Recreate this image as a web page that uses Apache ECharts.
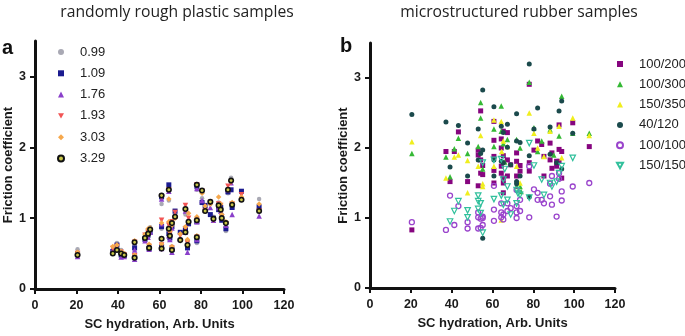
<!DOCTYPE html>
<html><head><meta charset="utf-8">
<script src="https://cdn.jsdelivr.net/npm/echarts@6/dist/echarts.min.js"></script>
<style>html,body{margin:0;padding:0;background:#fff}#c{width:685px;height:336px}</style>
</head><body><div id="c"></div>
<script>
// ---------- tick labels ----------
const xTicks = [0, 20, 40, 60, 80, 100, 120];
const yTicks = [0, 1, 2, 3];
const titleA = 'randomly rough plastic samples';
const titleB = 'microstructured rubber samples';
const xName = 'SC hydration, Arb. Units';
const yName = 'Friction coefficient';

// ---------- panel a : randomly rough plastic samples ----------
const plasticLabels = ['0.99', '1.09', '1.76', '1.93', '3.03', '3.29'];
const hydrationA = [20.5, 37.5, 39.5, 41.5, 43, 48, 48, 53, 54.5, 55, 55.5, 61, 61, 61, 64.5, 64.5, 65, 66, 66, 67.5, 70, 72.5, 72.5, 73.5, 74, 78, 78, 78, 80.5, 82, 84.5, 86, 88.5, 89.5, 90, 92, 93, 94.5, 95, 99.5, 108];
const p099 = [0.56, 0.55, 0.65, 0.55, 0.50, 0.62, 0.47, 0.74, 0.83, 0.62, 0.87, 1.20, 0.85, 0.62, 1.25, 0.88, 0.80, 0.60, 0.95, 1.07, 0.80, 1.05, 0.87, 0.68, 0.95, 1.40, 0.98, 0.65, 1.28, 1.15, 1.20, 1.02, 1.22, 1.13, 1.05, 0.82, 1.35, 1.57, 1.15, 1.27, 1.27];
const p109 = [0.50, 0.53, 0.62, 0.48, 0.47, 0.58, 0.45, 0.70, 0.76, 0.57, 0.80, 1.30, 0.88, 0.60, 1.47, 0.78, 0.72, 0.56, 0.88, 1.10, 0.80, 0.85, 0.83, 0.58, 0.92, 1.45, 0.95, 0.68, 1.22, 1.18, 1.05, 1.00, 1.12, 1.15, 0.97, 0.85, 1.37, 1.40, 1.15, 1.38, 1.16];
const p176 = [0.46, 0.55, 0.58, 0.45, 0.46, 0.55, 0.42, 0.68, 0.73, 0.56, 0.80, 1.27, 0.92, 0.57, 1.38, 0.75, 0.70, 0.52, 0.86, 1.05, 0.72, 1.10, 0.80, 0.52, 0.98, 1.42, 0.95, 0.70, 1.25, 1.12, 1.15, 0.97, 1.15, 1.10, 1.00, 0.90, 1.40, 1.50, 1.05, 1.30, 1.03];
const p193 = [0.50, 0.57, 0.60, 0.52, 0.48, 0.66, 0.47, 0.76, 0.80, 0.60, 0.82, 1.30, 0.97, 0.62, 1.40, 0.90, 0.78, 0.58, 0.95, 1.08, 0.75, 1.18, 0.85, 0.65, 1.00, 1.47, 0.97, 0.73, 1.38, 1.10, 1.22, 0.97, 1.20, 1.18, 1.02, 0.92, 1.45, 1.50, 1.20, 1.33, 1.10];
const p303 = [0.52, 0.60, 0.62, 0.53, 0.50, 0.68, 0.48, 0.77, 0.85, 0.63, 0.86, 1.32, 0.93, 0.63, 1.27, 0.95, 0.82, 0.60, 0.90, 1.00, 0.78, 1.12, 0.88, 0.70, 1.07, 1.48, 1.02, 0.75, 1.35, 1.17, 1.20, 1.00, 1.30, 1.20, 1.05, 0.95, 1.40, 1.52, 1.22, 1.30, 1.20];
const p329 = [0.48, 0.50, 0.55, 0.50, 0.48, 0.66, 0.44, 0.72, 0.78, 0.58, 0.84, 1.32, 0.71, 0.57, 1.40, 0.85, 0.75, 0.55, 0.93, 1.02, 0.69, 1.13, 0.80, 0.62, 0.95, 1.47, 0.97, 0.73, 1.39, 1.10, 1.23, 0.99, 1.18, 1.12, 1.00, 0.93, 1.40, 1.53, 1.19, 1.26, 1.10];

// ---------- panel b : microstructured rubber samples ([hydration, friction]) ----------
const rubberLabels = ['100/200', '100/300', '150/350', '40/120', '100/100', '150/150'];
const r100_200 = [[20.5,0.83],[37.2,1.95],[39.2,1.52],[41.3,1.95],[43.3,2.23],[47.8,1.52],[53,1.97],[53,1.9],[53,1.46],[54.2,2.53],[54.2,1.83],[54.2,1.64],[55.2,1.75],[55.2,1.62],[60.7,2.38],[60.7,2.11],[60.7,1.88],[60.7,1.68],[60.7,1.5],[64.3,2.13],[64.3,2.0],[64.3,1.74],[64.3,1.64],[65.3,2.24],[65.3,1.89],[65.3,1.57],[65.3,1.5],[65.3,1.36],[67.3,2.22],[67.3,1.83],[67.3,1.6],[68.9,1.76],[71.8,1.93],[71.8,1.81],[71.8,1.6],[73.5,1.75],[73.5,1.67],[78,2.91],[78,1.79],[78,1.67],[80.3,1.97],[82.1,2.1],[84.1,2.05],[85.2,1.88],[85.2,1.6],[88.2,2.07],[88.2,1.83],[89.1,1.93],[89.1,1.71],[91.4,1.81],[91.4,1.74],[92.6,2.33],[92.6,1.98],[92.6,1.81],[93.9,1.95],[93.9,1.57],[99.3,2.36],[107.4,2.02]];
const r100_300 = [[20.5,1.92],[37.2,1.87],[39.2,1.59],[41.3,1.99],[43.3,2.14],[47.8,1.92],[53,2.02],[54.2,2.65],[54.2,2.43],[55.2,1.7],[60.7,2.27],[60.7,2.02],[64.3,2.6],[64.3,2.24],[65.3,2.06],[66,1.8],[67.3,2.12],[71.8,2.12],[71.8,1.45],[73.5,2.0],[73.5,1.45],[74,1.38],[78,2.94],[80.3,2.29],[82.1,1.95],[84.1,2.1],[88.2,2.26],[90,1.9],[92.6,2.17],[93.9,2.74],[99.3,2.21],[107.4,2.21]];
const r150_350 = [[20.5,2.09],[37.2,1.57],[41.3,1.87],[43.3,1.9],[47.8,1.82],[47.8,1.36],[53,1.74],[54.2,2.18],[55.2,1.49],[55.2,1.45],[60.7,2.4],[60.7,1.74],[64.3,2.38],[64.3,0.97],[64.5,1.95],[65.3,2.1],[67.3,2.02],[71.8,1.74],[73.5,1.5],[78,2.5],[80.3,2.21],[82.1,2.0],[85.2,1.88],[88.2,2.24],[92.6,2.31],[93.9,1.86],[99.3,2.43],[107.4,2.18]];
const r40_120 = [[20.5,2.48],[37.2,2.37],[39.2,1.73],[43.3,2.32],[47.8,2.07],[47.8,1.6],[53,2.27],[53,1.83],[54.2,1.92],[55.2,2.83],[55.2,1.97],[55.2,0.71],[60.7,2.59],[60.7,1.83],[60.7,1.6],[64.3,2.31],[64.3,1.81],[65.3,2.22],[65.3,1.79],[67.3,2.34],[67.3,2.01],[68.9,1.76],[71.8,2.49],[71.8,2.1],[71.8,1.52],[71.8,1.49],[73.5,2.08],[73.5,1.6],[78,3.2],[78,1.89],[78,1.3],[80.3,2.27],[82.1,2.57],[88.2,2.3],[88.2,1.91],[91.4,1.79],[92.6,2.53],[93.9,2.67],[93.9,1.7],[99.3,2.21]];
const r100_100 = [[20.5,0.94],[37.2,0.83],[39.2,1.32],[41.3,0.9],[43.3,1.17],[47.8,0.94],[47.8,0.85],[53,1.08],[53,1.01],[53,0.85],[54.2,0.99],[54.2,0.86],[55.2,0.9],[55.2,1.0],[55.2,1.02],[60.7,1.46],[60.7,1.12],[60.7,0.96],[64.3,1.21],[64.3,1.08],[64.3,1.01],[65.3,1.05],[65.3,0.98],[67.3,1.21],[67.3,1.1],[68.9,1.14],[71.8,1.4],[71.8,1.17],[71.8,1.0],[71.8,1.08],[73.5,1.26],[73.5,1.1],[78,1.74],[78,1.01],[80.3,1.41],[82.1,1.36],[82.1,1.26],[84.1,1.26],[85.2,1.21],[88.2,1.49],[88.2,1.31],[89.1,1.6],[89.1,1.19],[91.4,1.02],[92.6,1.56],[92.6,1.64],[93.9,1.38],[93.9,1.25],[99.3,1.45],[107.4,1.5]];
const r150_150 = [[39.2,0.95],[41.3,1.1],[43.3,1.24],[47.8,1.11],[47.8,1.01],[53,1.32],[53,1.24],[53,1.13],[54.2,1.21],[54.2,1.07],[55.2,1.79],[55.2,0.79],[60.7,1.83],[60.7,1.27],[64.3,1.84],[64.3,1.32],[65.3,1.55],[65.3,1.19],[66,1.7],[67.3,1.45],[67.3,1.26],[68.9,1.05],[71.8,1.4],[71.8,1.21],[72.5,1.35],[73.5,1.33],[78,2.07],[78,1.29],[80.3,1.75],[84.1,1.55],[85.2,1.33],[88.2,1.5],[89.1,1.45],[91.4,1.52],[92.6,1.64],[93.9,1.74],[99.3,1.86]];

// ---------- build ----------
const FONT = '"Liberation Sans", Arial, sans-serif';
const DOWN_TRI = 'path://M0,0L10,0L5,9Z';
const pair = (xs, ys) => xs.map((x, i) => [x, ys[i]]);

function xAxisCfg(grid) {
  return {
    gridIndex: grid, type: 'value', min: 0, max: 120, interval: 20,
    name: xName, nameLocation: 'middle', nameGap: 29,
    nameTextStyle: { fontFamily: FONT, fontWeight: 'bold', fontSize: 13, color: '#1a1a1a' },
    axisLine: { show: true, onZero: false, lineStyle: { color: '#111', width: 3 } },
    axisTick: { show: true, length: 5, lineStyle: { color: '#111', width: 2 }, customValues: xTicks },
    axisLabel: { margin: 10, fontFamily: FONT, fontWeight: 'bold', fontSize: 12.5, color: '#1a1a1a', customValues: xTicks },
    splitLine: { show: false }
  };
}
function yAxisCfg(grid) {
  return {
    gridIndex: grid, type: 'value', min: 0, max: 3.5,
    name: yName, nameLocation: 'middle', nameGap: 20, nameRotate: 90,
    nameTextStyle: { fontFamily: FONT, fontWeight: 'bold', fontSize: 13, color: '#1a1a1a' },
    axisLine: { show: true, onZero: false, lineStyle: { color: '#111', width: 3 } },
    axisTick: { show: true, length: 5, lineStyle: { color: '#111', width: 2 }, customValues: yTicks },
    axisLabel: { margin: 9, fontFamily: FONT, fontWeight: 'bold', fontSize: 12.5, color: '#1a1a1a', customValues: yTicks },
    splitLine: { show: false }
  };
}

const aStyles = [
  { symbol: 'circle', size: 4.5, color: '#a9a9b4' },
  { symbol: 'rect', size: 5, color: '#1b1b8f' },
  { symbol: 'triangle', size: 5.5, color: '#8a3fca' },
  { symbol: DOWN_TRI, size: 5.5, color: '#f25555' },
  { symbol: 'diamond', size: 5.5, color: '#f6a84c' },
  { symbol: 'circle', size: 4.5, color: '#c8c64a', border: '#111', bw: 1.6 }
];
const aValues = [p099, p109, p176, p193, p303, p329];
const bStyles = [
  { symbol: 'rect', size: 5, color: '#86057f' },
  { symbol: 'triangle', size: 5.5, color: '#35b935' },
  { symbol: 'triangle', size: 5.5, color: '#f0ee1e' },
  { symbol: 'circle', size: 5, color: '#1b4a4c' },
  { symbol: 'circle', size: 5, color: 'rgba(255,255,255,0)', border: '#9a44cc', bw: 1.3 },
  { symbol: DOWN_TRI, size: 5.5, color: 'rgba(255,255,255,0)', border: '#31c09c', bw: 1.2 }
];
const bValues = [r100_200, r100_300, r150_350, r40_120, r100_100, r150_150];

function mk(name, data, st, grid) {
  return {
    type: 'scatter', name, data, xAxisIndex: grid, yAxisIndex: grid,
    symbol: st.symbol, symbolSize: st.size,
    itemStyle: { color: st.color, borderColor: st.border || st.color, borderWidth: st.bw || 0, opacity: 1 },
    emphasis: { disabled: true }, animation: false
  };
}
const series = [];
plasticLabels.forEach((n, i) => series.push(mk(n, pair(hydrationA, aValues[i]), aStyles[i], 0)));
rubberLabels.forEach((n, i) => series.push(mk(n, bValues[i], bStyles[i], 1)));

const legendText = { fontFamily: FONT, fontSize: 13, color: '#222', lineHeight: 14, padding: [0, 0, 0, 11] };
const option = {
  backgroundColor: '#fff',
  animation: false,
  grid: [
    { left: 35, top: 41, width: 249, height: 250 },
    { left: 370, top: 43, width: 245, height: 245 }
  ],
  xAxis: [xAxisCfg(0), xAxisCfg(1)],
  yAxis: [yAxisCfg(0), yAxisCfg(1)],
  legend: [
    { data: plasticLabels, orient: 'vertical', left: 52, top: 40, itemWidth: 6, itemHeight: 6, itemGap: 7.3, textStyle: legendText, selectedMode: false },
    { data: rubberLabels, orient: 'vertical', left: 611, top: 52, itemWidth: 6, itemHeight: 6, itemGap: 6.3, textStyle: legendText, selectedMode: false }
  ],
  graphic: [
    { type: 'text', x: 177, y: 13, style: { text: titleA, font: '15.7px "Open Sans", sans-serif', fill: '#222', textAlign: 'center', textVerticalAlign: 'middle' } },
    { type: 'text', x: 519, y: 13, style: { text: titleB, font: '15.7px "Open Sans", sans-serif', fill: '#222', textAlign: 'center', textVerticalAlign: 'middle' } },
    { type: 'text', x: 2, y: 38, style: { text: 'a', font: 'bold 20px ' + FONT, fill: '#111' } },
    { type: 'text', x: 340, y: 36, style: { text: 'b', font: 'bold 20px ' + FONT, fill: '#111' } }
  ],
  series
};
const chart = echarts.init(document.getElementById('c'), null, { renderer: 'canvas' });
chart.setOption(option);
</script></body></html>
